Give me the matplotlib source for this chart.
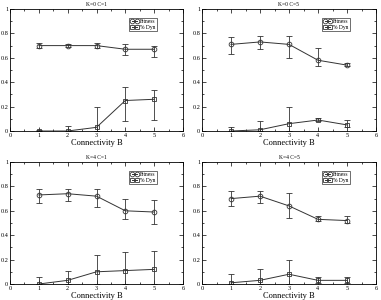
import numpy as np
import matplotlib.pyplot as plt
from matplotlib.ticker import MultipleLocator

plt.rcParams['font.family'] = ['Liberation Serif', 'DejaVu Serif']

x = [1, 2, 3, 4, 5]
titles = ['K=0 C=1', 'K=0 C=5', 'K=4 C=1', 'K=4 C=5']

# fitness mean, low, high
fit = [[0.70, 0.70, 0.70, 0.67, 0.67],
       [0.71, 0.73, 0.71, 0.58, 0.54],
       [0.73, 0.74, 0.72, 0.60, 0.59],
       [0.70, 0.72, 0.64, 0.53, 0.52]]
fit_lo = [[0.68, 0.69, 0.68, 0.62, 0.61],
          [0.63, 0.67, 0.60, 0.53, 0.53],
          [0.66, 0.68, 0.63, 0.53, 0.49],
          [0.64, 0.66, 0.54, 0.52, 0.50]]
fit_hi = [[0.72, 0.71, 0.72, 0.71, 0.70],
          [0.77, 0.78, 0.78, 0.68, 0.56],
          [0.78, 0.78, 0.78, 0.70, 0.69],
          [0.76, 0.76, 0.75, 0.56, 0.56]]

# % dyn mean, low, high
dyn = [[0.00, 0.00, 0.03, 0.25, 0.26],
       [0.00, 0.01, 0.06, 0.09, 0.05],
       [0.00, 0.03, 0.10, 0.11, 0.12],
       [0.01, 0.03, 0.08, 0.03, 0.03]]
dyn_lo = [[0.00, 0.00, 0.00, 0.08, 0.09],
          [0.00, 0.00, 0.00, 0.08, 0.03],
          [0.00, 0.00, 0.00, 0.00, 0.00],
          [0.00, 0.00, 0.00, 0.01, 0.01]]
dyn_hi = [[0.01, 0.045, 0.20, 0.36, 0.34],
          [0.03, 0.08, 0.20, 0.11, 0.09],
          [0.06, 0.11, 0.24, 0.26, 0.27],
          [0.08, 0.12, 0.20, 0.06, 0.06]]

fig = plt.figure(figsize=(3.81, 3.0), dpi=100)
boxes = [[10/381, 1 - 131/300, 173/381, 122/300],
         [202/381, 1 - 131/300, 174/381, 122/300],
         [10/381, 1 - 284/300, 173/381, 122/300],
         [202/381, 1 - 284/300, 174/381, 122/300]]
c = '#333333'

for i in range(4):
    ax = fig.add_axes(boxes[i])
    f = np.array(fit[i]); d = np.array(dyn[i])
    ferr = [f - np.array(fit_lo[i]), np.array(fit_hi[i]) - f]
    derr = [d - np.array(dyn_lo[i]), np.array(dyn_hi[i]) - d]
    ax.errorbar(x, f, yerr=ferr, fmt='none', ecolor=c, capsize=2,
                elinewidth=0.6, capthick=0.6)
    ax.errorbar(x, d, yerr=derr, fmt='none', ecolor=c, capsize=2,
                elinewidth=0.6, capthick=0.6)
    ax.plot(x, f, color=c, lw=0.7, marker='o', ms=3.4, mfc='none', mec=c,
            mew=0.6, label='Fitness')
    ax.plot(x, d, color=c, lw=0.7, marker='s', ms=3.2, mfc='none', mec=c,
            mew=0.6, label='% Dyn')
    ax.set_xlim(0, 6)
    ax.set_ylim(0, 1)
    ax.xaxis.set_major_locator(MultipleLocator(1))
    ax.xaxis.set_minor_locator(MultipleLocator(0.5))
    ax.yaxis.set_major_locator(MultipleLocator(0.2))
    ax.yaxis.set_minor_locator(MultipleLocator(0.1))
    ax.tick_params(which='both', direction='in', top=True, right=True,
                   labelsize=4.5, pad=1.2, width=0.5)
    ax.tick_params(which='major', length=3)
    ax.tick_params(which='minor', length=1.5)
    ax.yaxis.set_major_formatter(plt.FuncFormatter(lambda v, p: '%g' % round(v, 1)))
    for s in ax.spines.values():
        s.set_linewidth(0.6)
    ax.set_title(titles[i], fontsize=4, pad=2)
    ax.set_xlabel('Connectivity B', fontsize=6, labelpad=1)
    leg = ax.legend(loc='upper right', fontsize=4, frameon=True, fancybox=False,
                    edgecolor='black', borderpad=0.25, handlelength=1.6,
                    numpoints=2, labelspacing=0.1, handletextpad=0.2,
                    borderaxespad=0, bbox_to_anchor=(0.85, 0.926))
    leg.get_frame().set_linewidth(0.5)

fig.savefig('out.png', dpi=100)
